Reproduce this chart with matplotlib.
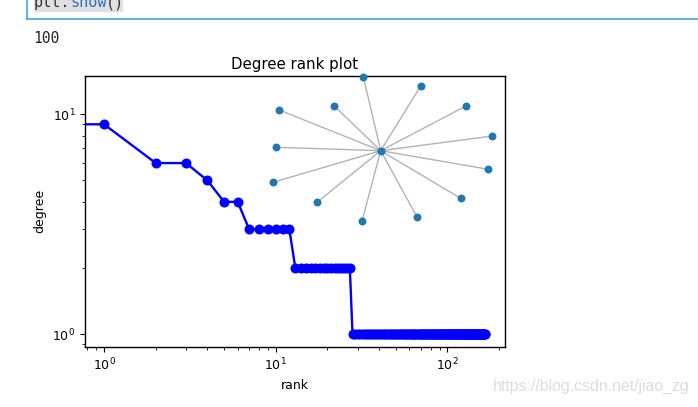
import matplotlib
matplotlib.use("Agg")
import matplotlib.pyplot as plt
from matplotlib.lines import Line2D
from matplotlib.patches import Rectangle

W, H = 698, 407

# degree sequence, sorted descending (index 0 is the largest degree)
degree_values = [13, 9, 6, 5, 4, 3, 2, 1]
degree_counts = [1, 1, 2, 1, 2, 6, 15, 139]
degree_sequence = []
for d, c in zip(degree_values, degree_counts):
    degree_sequence += [d] * c

# layout of the largest connected component (star), hub first
node_x = [0.0, -17.4, 40.0, 85.3, 111.6, 107.6, 80.0, 36.3, -18.7, -63.7, -107.7, -105.0, -101.4, -46.4]
node_y = [0.0, 74.0, 64.7, 44.7, 14.7, -18.6, -47.6, -66.3, -70.3, -51.6, -31.6, 3.4, 40.7, 44.7]
edges = [(0, i) for i in range(1, len(node_x))]


def fx(px):
    return px / W


def fy(py):
    return 1 - py / H


fig = plt.figure(figsize=(W / 100, H / 100), dpi=100)
fig.patch.set_facecolor("white")

# notebook bits around the figure
fig.add_artist(Rectangle((fx(34), fy(12)), fx(123) - fx(34), fy(0) - fy(12),
                         transform=fig.transFigure, color="#e0e0e0", lw=0))
mono = dict(family="DejaVu Sans Mono", fontsize=11, va="baseline")
fig.text(fx(34), fy(7), "plt.", color="#333333", **mono)
fig.text(fx(70), fy(7), "show", color="#2f6fb6", **mono)
fig.text(fx(106), fy(7), "()", color="#333333", **mono)
fig.add_artist(Line2D([fx(27), fx(27)], [fy(0), fy(19)], transform=fig.transFigure, color="#42a5f5", lw=1.2))
fig.add_artist(Line2D([fx(27), fx(698)], [fy(19), fy(19)], transform=fig.transFigure, color="#42a5f5", lw=1.2))
fig.text(fx(33), fy(43), "100", family="DejaVu Sans Mono", fontsize=10.5, color="#222222", va="baseline")
fig.text(fx(690), fy(391), "https://blog.csdn.net/jiao_zg", family="Liberation Sans",
         fontsize=11.4, color="#dcdcdc", ha="right", va="baseline")

# main degree rank plot
ax = fig.add_axes([fx(85), fy(346.7), fx(505) - fx(85), fy(75.7) - fy(346.7)])
ax.loglog(range(len(degree_sequence)), degree_sequence, "b-", marker="o", lw=1.7, ms=6.2)
ax.set_xlim(10 ** -0.111, 10 ** 2.335)
ax.set_ylim(10 ** -0.056, 10 ** 1.175)
ax.set_title("Degree rank plot", fontsize=10.8, pad=5)
ax.set_ylabel("degree", fontsize=9)
ax.set_xlabel("rank", fontsize=9)
ax.tick_params(labelsize=9)
for s in ax.spines.values():
    s.set_linewidth(1.0)

# inset with the component
ax2 = fig.add_axes([fx(260), fy(230), fx(500) - fx(260), fy(70) - fy(230)])
ax2.set_xlim(260 - 380.7, 500 - 380.7)
ax2.set_ylim(150.7 - 230, 150.7 - 70)
ax2.axis("off")
for a, b in edges:
    ax2.plot([node_x[a], node_x[b]], [node_y[a], node_y[b]], color="black", alpha=0.3, lw=1.0, zorder=1)
ax2.scatter(node_x, node_y, s=22, color="#1f77b4", zorder=2)

fig.savefig("out.png", dpi=100)
